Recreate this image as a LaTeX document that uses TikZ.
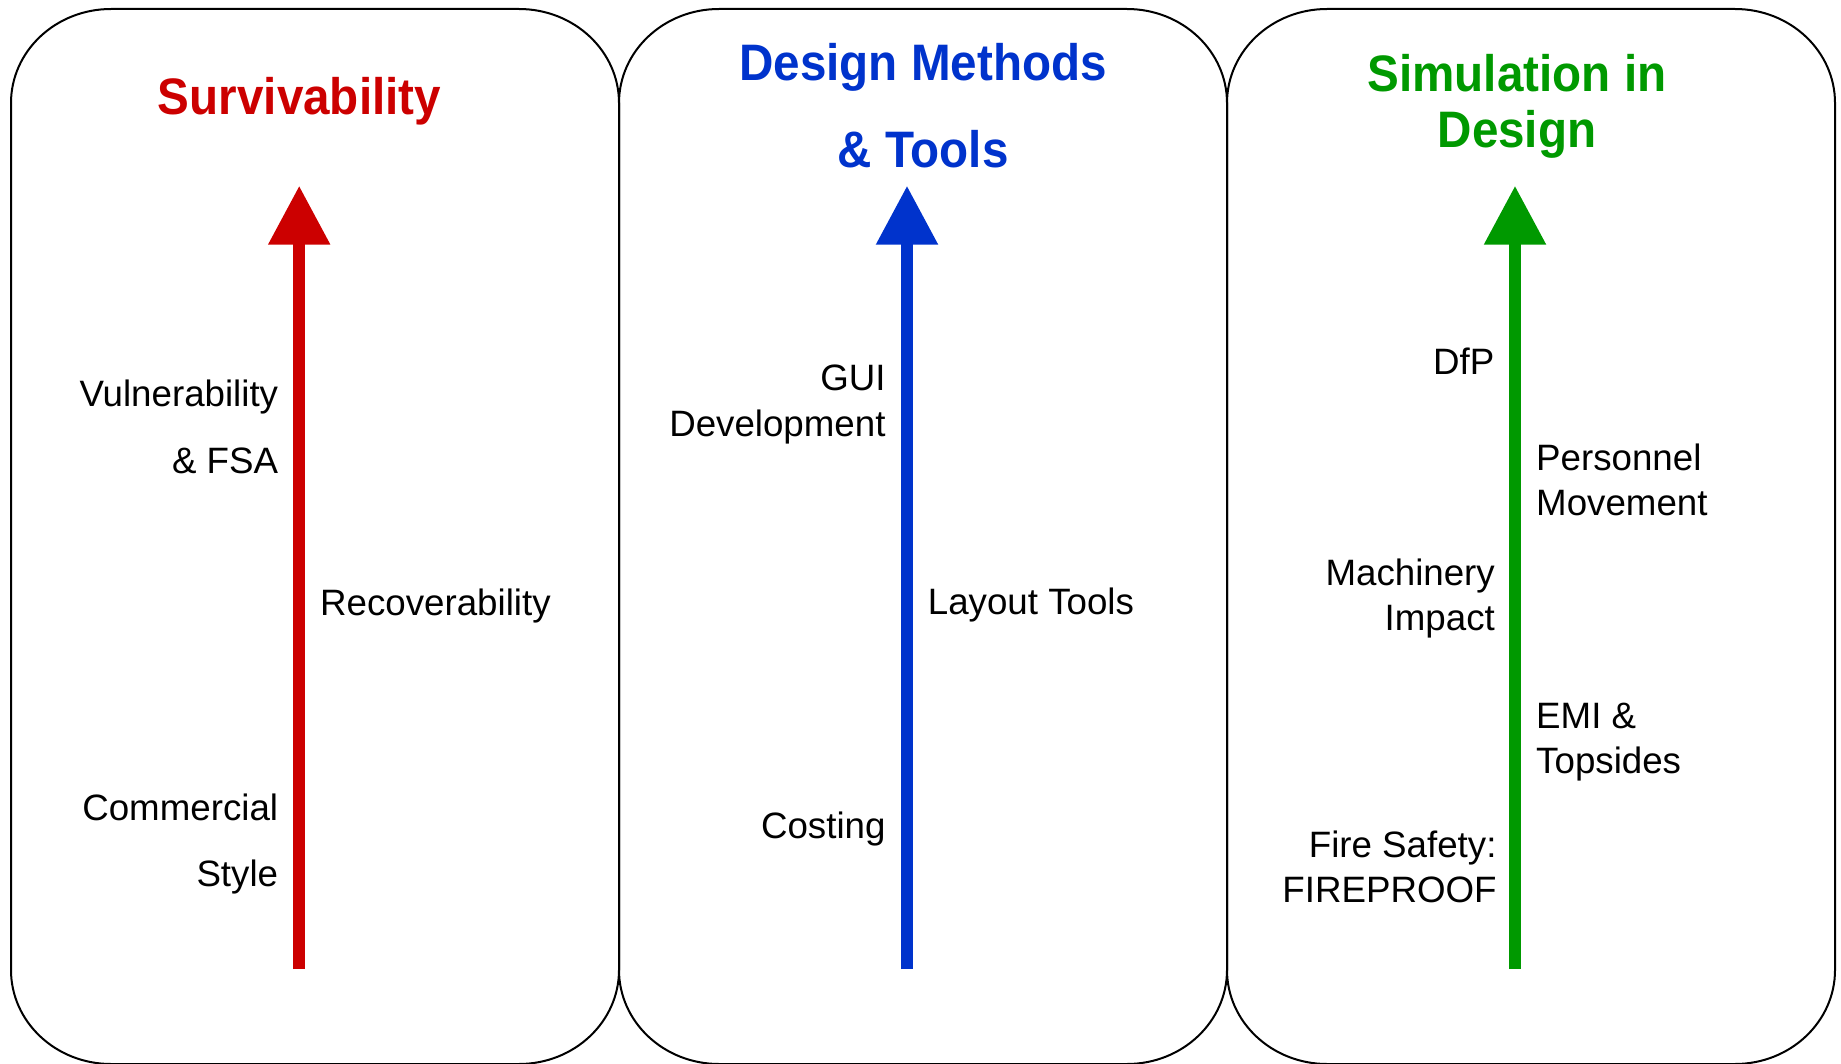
\documentclass[tikz,border=0pt]{standalone}
\usepackage{fontspec}
\setmainfont{Liberation Sans}
\newfontfamily\titlefont{Liberation Sans}[FakeStretch=0.928]
\usetikzlibrary{arrows.meta}
\definecolor{cred}{HTML}{CC0000}
\definecolor{cblue}{HTML}{0033CC}
\definecolor{cgreen}{HTML}{009900}
\tikzset{
  panel/.style={draw=black, line width=2pt},
  ttl/.style={inner sep=0pt, anchor=base, font=\titlefont\bfseries\fontsize{51.3}{60}\selectfont},
  lbl/.style={inner sep=0pt, font=\fontsize{36.7}{44}\selectfont, text=black},
  lblL/.style={lbl, anchor=base east},
  lblR/.style={lbl, anchor=base west},
  bigarrow/.style={line width=12pt, -{Triangle[width=59pt,length=59pt]}},
}
\newcommand{\panelpath}[4]{% x0 y0 x1 y1
  \draw[panel] (#1+100,#2) -- (#3-100,#2)
    arc[start angle=-90,end angle=0,x radius=100,y radius=94]
    -- (#3,#4-94)
    arc[start angle=0,end angle=90,x radius=100,y radius=94]
    -- (#1+100,#4)
    arc[start angle=90,end angle=180,x radius=100,y radius=94]
    -- (#1,#2+94)
    arc[start angle=180,end angle=270,x radius=100,y radius=94] -- cycle;}
\begin{document}
\begin{tikzpicture}[x=1pt,y=-1pt]
\useasboundingbox (0,0) rectangle (1841,1064);
% panels
\panelpath{11}{9}{619}{1064}
\panelpath{619}{9}{1227}{1064}
\panelpath{1227}{9}{1835}{1064}
% titles
\node[ttl, text=cred] (t1) at (299.5,115) {Survivability};
\node[ttl, text=cblue] (t2a) at (923,81) {Design Methods};
\node[ttl, text=cblue] (t2b) at (923,168) {\& Tools};
\node[ttl, text=cgreen] (t3a) at (1517,91.7) {Simulation in};
\node[ttl, text=cgreen] (t3b) at (1517,148) {Design};
% arrows
\coordinate (a1b) at (299.2,969);
\coordinate (a1t) at (299.2,185.7);
\coordinate (a2b) at (907,969);
\coordinate (a2t) at (907,185.7);
\coordinate (a3b) at (1515,969);
\coordinate (a3t) at (1515,185.7);
\draw[bigarrow, cred] (a1b) -- (a1t);
\draw[bigarrow, cblue] (a2b) -- (a2t);
\draw[bigarrow, cgreen] (a3b) -- (a3t);
% panel 1 labels
\node[lblL] (vul1) at (278.3,406.7) {Vulnerability};
\node[lblL] (vul2) at (278.3,473.3) {\& FSA};
\node[lblR] (rec) at (320,615) {Recoverability};
\node[lblL] (com1) at (278.3,820) {Commercial};
\node[lblL] (com2) at (278.3,886.7) {Style};
% panel 2 labels
\node[lblL] (gui1) at (885.7,390) {GUI};
\node[lblL] (gui2) at (885.7,436) {Development};
\node[lblR] (lay) at (927.7,614.3) {Layout Tools};
\node[lblL] (cost) at (885.7,838.3) {Costing};
% panel 3 labels
\node[lblL] (dfp) at (1494.5,374.3) {DfP};
\node[lblR] (per1) at (1536,470.7) {Personnel};
\node[lblR] (per2) at (1536,515) {Movement};
\node[lblL] (mach1) at (1495,585.7) {Machinery};
\node[lblL] (mach2) at (1495,630) {Impact};
\node[lblR] (emi1) at (1536,728.3) {EMI \&};
\node[lblR] (emi2) at (1536,773.3) {Topsides};
\node[lblL] (fire1) at (1496.7,857) {Fire Safety:};
\node[lblL] (fire2) at (1496.7,902.7) {FIREPROOF};
\end{tikzpicture}
\end{document}
